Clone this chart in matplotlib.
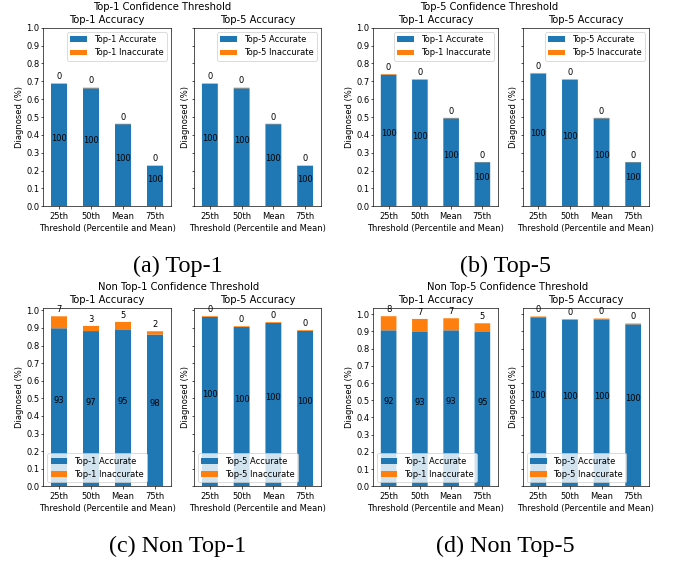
import numpy as np
import matplotlib

matplotlib.use("Agg")
import matplotlib.pyplot as plt  # noqa: E402

W, H, DPI = 673, 563, 60

thresholds = ["25th", "50th", "Mean", "75th"]

# fraction of samples diagnosed at each threshold, split by accuracy
top1_conf_top1_acc = [0.685, 0.661, 0.460, 0.227]
top1_conf_top1_inacc = [0.0034, 0.0033, 0.0023, 0.0011]
top1_conf_top5_acc = [0.685, 0.661, 0.460, 0.227]
top1_conf_top5_inacc = [0.0034, 0.0033, 0.0023, 0.0011]

top5_conf_top1_acc = [0.737, 0.708, 0.493, 0.247]
top5_conf_top1_inacc = [0.0036, 0.0035, 0.0024, 0.0012]
top5_conf_top5_acc = [0.743, 0.708, 0.493, 0.247]
top5_conf_top5_inacc = [0.0036, 0.0035, 0.0024, 0.0012]

non_top1_top1_acc = [0.898, 0.882, 0.888, 0.862]
non_top1_top1_inacc = [0.068, 0.029, 0.046, 0.019]
non_top1_top5_acc = [0.962, 0.905, 0.928, 0.883]
non_top1_top5_inacc = [0.0045, 0.0045, 0.0045, 0.0043]

non_top5_top1_acc = [0.906, 0.900, 0.906, 0.900]
non_top5_top1_inacc = [0.082, 0.072, 0.070, 0.047]
non_top5_top5_acc = [0.982, 0.966, 0.970, 0.941]
non_top5_top5_inacc = [0.0045, 0.0045, 0.0045, 0.0045]

BLUE = "#1f77b4"
ORANGE = "#ff7f0e"


def px_rect(x0, x1, ytop, ybot):
    return [x0 / W, 1 - ybot / H, (x1 - x0) / W, (ybot - ytop) / H]


def draw_panel(ax, acc, inacc, kind, legend_loc, title_pad=6):
    x = np.arange(len(thresholds))
    acc = np.asarray(acc, float)
    inacc = np.asarray(inacc, float)
    total = acc + inacc
    ax.bar(x, acc, 0.5, color=BLUE, label=f"{kind} Accurate", snap=False)
    ax.bar(x, inacc, 0.5, bottom=acc, color=ORANGE, label=f"{kind} Inaccurate",
           snap=False)

    pct_acc = np.round(100 * acc / total).astype(int)
    pct_inacc = np.round(100 * inacc / total).astype(int)
    for xi, a, t, pa, pi in zip(x, acc, total, pct_acc, pct_inacc):
        ax.annotate(str(pa), (xi, a / 2), xytext=(0, 5), textcoords="offset points",
                    ha="center", va="baseline", fontsize=10)
        ax.annotate(str(pi), (xi, t), xytext=(0, 5), textcoords="offset points",
                    ha="center", va="baseline", fontsize=10)

    ax.set_xticks(x)
    ax.set_xticklabels(thresholds)
    ax.set_xlim(-0.5, len(thresholds) - 0.5)
    ax.set_yticks(np.linspace(0, 1, 11))
    ax.tick_params(axis="y", length=2.8, pad=1.5)
    ax.set_xlabel("Threshold (Percentile and Mean)")
    ax.set_ylabel("Diagnosed (%)", labelpad=2)
    ax.set_title(f"{kind} Accuracy", pad=title_pad)
    ax.legend(loc=legend_loc)


fig = plt.figure(figsize=(W / DPI, H / DPI), dpi=DPI)

# (x0, x1) of the left/right axes in each column, (top, bottom) of each row
cols = [((43, 171), (194, 321)), ((373, 498), (522.5, 649))]
rows = [(27.7, 206.3), (307.7, 486.3)]

panels = [
    (0, 0, "Top-1 Confidence Threshold", "(a) Top-1",
     top1_conf_top1_acc, top1_conf_top1_inacc, top1_conf_top5_acc, top1_conf_top5_inacc,
     "upper right", True),
    (1, 0, "Top-5 Confidence Threshold", "(b) Top-5",
     top5_conf_top1_acc, top5_conf_top1_inacc, top5_conf_top5_acc, top5_conf_top5_inacc,
     "upper right", True),
    (0, 1, "Non Top-1 Confidence Threshold", "(c) Non Top-1",
     non_top1_top1_acc, non_top1_top1_inacc, non_top1_top5_acc, non_top1_top5_inacc,
     "lower left", False),
    (1, 1, "Non Top-5 Confidence Threshold", "(d) Non Top-5",
     non_top5_top1_acc, non_top5_top1_inacc, non_top5_top5_acc, non_top5_top5_inacc,
     "lower left", False),
]

sup_pos = {(0, 0): (162.5, 10), (1, 0): (489, 10), (0, 1): (179, 290), (1, 1): (507.5, 290)}
cap_pos = {(0, 0): (177.5, 271.7), (1, 0): (506, 271.7), (0, 1): (177.5, 551.7), (1, 1): (505.5, 551.7)}

for c, r, sup, cap, a1, i1, a5, i5, loc, fixed in panels:
    (lx0, lx1), (rx0, rx1) = cols[c]
    ytop, ybot = rows[r]
    ax_l = fig.add_axes(px_rect(lx0, lx1, ytop, ybot))
    ax_r = fig.add_axes(px_rect(rx0, rx1, ytop, ybot), sharey=ax_l)
    draw_panel(ax_l, a1, i1, "Top-1", loc)
    draw_panel(ax_r, a5, i5, "Top-5", loc)
    ax_r.tick_params(labelleft=False)
    if fixed:
        ax_l.set_ylim(0, 1.0)

    sx, sy = sup_pos[(c, r)]
    fig.text(sx / W, 1 - sy / H, sup, ha="center", va="baseline", fontsize=12)
    cx, cy = cap_pos[(c, r)]
    fig.text(cx / W, 1 - cy / H, cap, ha="center", va="baseline", fontsize=29,
             family="Liberation Serif")

fig.savefig("out.png", dpi=DPI)
